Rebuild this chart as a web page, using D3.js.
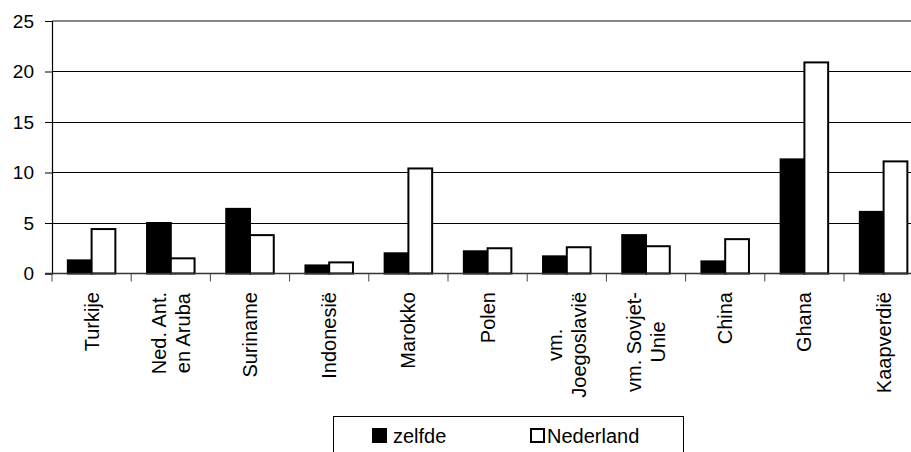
<!DOCTYPE html>
<html>
<head>
<meta charset="utf-8">
<script src="https://cdn.jsdelivr.net/npm/d3@7"></script>
<style>
  html, body { margin: 0; padding: 0; background: #fff; }
  svg { display: block; font-family: "Liberation Sans", Arial, sans-serif; }
</style>
</head>
<body>
<svg id="chart" width="911" height="452"></svg>
<script>
const categories = [
  ["Turkije"],
  ["Ned. Ant.", "en Aruba"],
  ["Suriname"],
  ["Indonesië"],
  ["Marokko"],
  ["Polen"],
  ["vm.", "Joegoslavië"],
  ["vm. Sovjet-", "Unie"],
  ["China"],
  ["Ghana"],
  ["Kaapverdië"]
];
const seriesNames = ["zelfde", "Nederland"];
const zelfde =    [1.3, 5.0, 6.4, 0.8, 2.0, 2.2, 1.7, 3.8, 1.2, 11.3, 6.1];
const nederland = [4.4, 1.5, 3.8, 1.1, 10.4, 2.5, 2.6, 2.7, 3.4, 20.9, 11.1];
const yTicks = [0, 5, 10, 15, 20, 25];
const seriesFill = ["#000000", "#ffffff"];

const svg = d3.select("#chart");
const plotLeft = 52, bandW = 79.2;
const plotTop = 21, plotBottom = 273.5;

const x0 = d3.scaleBand()
  .domain(d3.range(categories.length))
  .range([plotLeft, plotLeft + bandW * categories.length])
  .paddingInner(0).paddingOuter(0);
const x1 = d3.scaleBand()
  .domain([0, 1])
  .range([bandW * 0.2, bandW * 0.8]);
const y = d3.scaleLinear().domain([0, 25]).range([plotBottom, plotTop]);

// gridlines
svg.append("g").selectAll("line")
  .data(yTicks.filter(d => d > 0 && d < 25))
  .join("line")
  .attr("x1", plotLeft).attr("x2", 930)
  .attr("y1", d => y(d)).attr("y2", d => y(d))
  .attr("stroke", "#000").attr("stroke-width", 1)
  .attr("shape-rendering", "crispEdges");

// top plot border (gray)
svg.append("line")
  .attr("x1", plotLeft).attr("x2", 930)
  .attr("y1", y(25)).attr("y2", y(25))
  .attr("stroke", "#888").attr("stroke-width", 2);

// bars
const groups = svg.append("g").selectAll("g")
  .data(categories.map((c, i) => i))
  .join("g")
  .attr("transform", i => `translate(${x0(i)},0)`);
groups.selectAll("rect")
  .data(i => [zelfde[i], nederland[i]].map((v, s) => ({v, s})))
  .join("rect")
  .attr("x", d => x1(d.s))
  .attr("y", d => y(d.v))
  .attr("width", x1.bandwidth())
  .attr("height", d => y(0) - y(d.v))
  .attr("fill", d => seriesFill[d.s])
  .attr("stroke", "#000")
  .attr("stroke-width", 2);

// y axis
const yAxis = d3.axisLeft(y).tickValues(yTicks).tickSize(7).tickPadding(11).tickFormat(d3.format("d"));
const gy = svg.append("g").attr("transform", `translate(${plotLeft},0)`).call(yAxis);
gy.select(".domain").attr("stroke", "#000").attr("stroke-width", 1.2);
gy.selectAll(".tick line").attr("stroke", "#000");
gy.selectAll(".tick text")
  .attr("font-size", 19)
  .attr("font-family", "Liberation Sans, Arial, sans-serif")
  .attr("fill", "#000");

// x axis
const xAxisLine = svg.append("g");
xAxisLine.append("line")
  .attr("x1", plotLeft - 7).attr("x2", 930)
  .attr("y1", y(0)).attr("y2", y(0))
  .attr("stroke", "#333").attr("stroke-width", 1.5);
xAxisLine.selectAll("line.tk")
  .data(d3.range(categories.length + 1))
  .join("line").attr("class", "tk")
  .attr("x1", i => plotLeft + i * bandW).attr("x2", i => plotLeft + i * bandW)
  .attr("y1", y(0)).attr("y2", y(0) + 8)
  .attr("stroke", "#444").attr("stroke-width", 1);

// x labels (rotated)
const fs = 20, lh = 23.4, labelEnd = 292;
categories.forEach((lines, i) => {
  const cx = x0(i) + bandW / 2;
  const g = svg.append("g");
  const texts = lines.map((ln, j) => {
    return g.append("text")
      .attr("font-size", fs)
      .attr("fill", "#000")
      .attr("text-anchor", "middle")
      .text(ln);
  });
  const maxW = d3.max(texts, t => t.node().getComputedTextLength());
  const cy = labelEnd + maxW / 2;
  const n = lines.length;
  texts.forEach((t, j) => {
    const bx = cx + 7 + (j - (n - 1) / 2) * lh;
    t.attr("transform", `translate(${bx},${cy}) rotate(-90)`);
  });
});

// legend
const lg = svg.append("g");
lg.append("rect")
  .attr("x", 333.5).attr("y", 416.5)
  .attr("width", 350).attr("height", 60)
  .attr("fill", "#fff").attr("stroke", "#000").attr("stroke-width", 1);
const legendX = [373, 531];
seriesNames.forEach((name, s) => {
  lg.append("rect")
    .attr("x", legendX[s]).attr("y", 429)
    .attr("width", 13).attr("height", 13)
    .attr("fill", seriesFill[s]).attr("stroke", "#000").attr("stroke-width", 2);
  lg.append("text")
    .attr("x", legendX[s] + (s === 0 ? 20 : 16)).attr("y", 443)
    .attr("font-size", 20).attr("fill", "#000")
    .text(name);
});
</script>
</body>
</html>
